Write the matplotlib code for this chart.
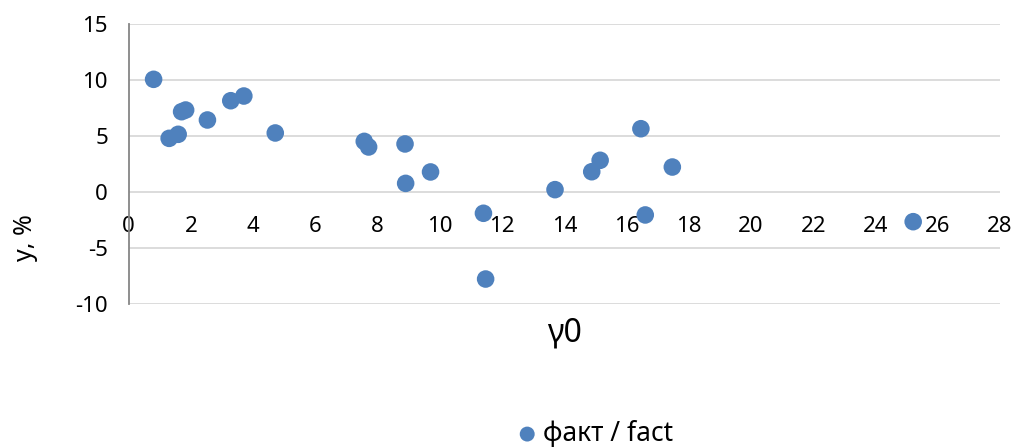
import numpy as np
import matplotlib
matplotlib.use("Agg")
import matplotlib.pyplot as plt

plt.rcParams["font.family"] = ["Noto Sans", "DejaVu Sans"]
plt.rcParams["axes.unicode_minus"] = False

# values
gamma0 = [0.80, 1.30, 1.59, 1.70, 1.83, 2.53, 3.28, 3.70, 4.71, 7.57, 7.71,
          8.88, 8.90, 9.70, 11.40, 11.47, 13.70, 14.88, 15.15, 16.46, 16.60,
          17.47, 25.21]
y_pct = [10.06, 4.79, 5.15, 7.17, 7.32, 6.43, 8.15, 8.57, 5.27, 4.52, 4.02,
         4.29, 0.77, 1.79, -1.90, -7.77, 0.21, 1.81, 2.83, 5.65, -2.05,
         2.23, -2.65]
x_ticks = list(range(0, 29, 2))
y_ticks = [-10, -5, 0, 5, 10, 15]

W, H = 1022, 447
fig = plt.figure(figsize=(W / 100, H / 100), dpi=100)
ax = fig.add_axes([128.7 / W, 1 - 304 / H, (1000 - 128.7) / W, (304 - 24) / H])

ax.scatter(gamma0, y_pct, s=160, color="#4F81BD", edgecolors="none",
           zorder=3, clip_on=False, label="факт / fact")

ax.set_xlim(0, 28)
ax.set_ylim(-10, 15)
ax.set_xticks(x_ticks)
ax.set_yticks(y_ticks)

ax.grid(axis="y", color="#D9D9D9", lw=1.3)
ax.grid(axis="x", visible=False)
ax.set_axisbelow(True)

for s in ["top", "right"]:
    ax.spines[s].set_visible(False)
ax.spines["bottom"].set_position(("data", 0))
ax.spines["bottom"].set_visible(False)
ax.spines["left"].set_color("#868686")
ax.spines["left"].set_linewidth(1.3)

ax.tick_params(axis="x", length=0, pad=17, labelsize=16)
ax.tick_params(axis="y", length=0, pad=15, labelsize=16)

fig.text(564 / W, 1 - 333 / H, "γ0", fontsize=23, ha="center", va="center")
fig.text(25 / W, 1 - 238 / H, "y, %", fontsize=18, ha="center", va="center",
         rotation=90)

leg = fig.legend(loc="center", bbox_to_anchor=(587 / W, 1 - 434 / H),
                 frameon=False, fontsize=19, handletextpad=-0.4,
                 markerscale=0.85, borderpad=0)

fig.savefig("out.png", dpi=100)
